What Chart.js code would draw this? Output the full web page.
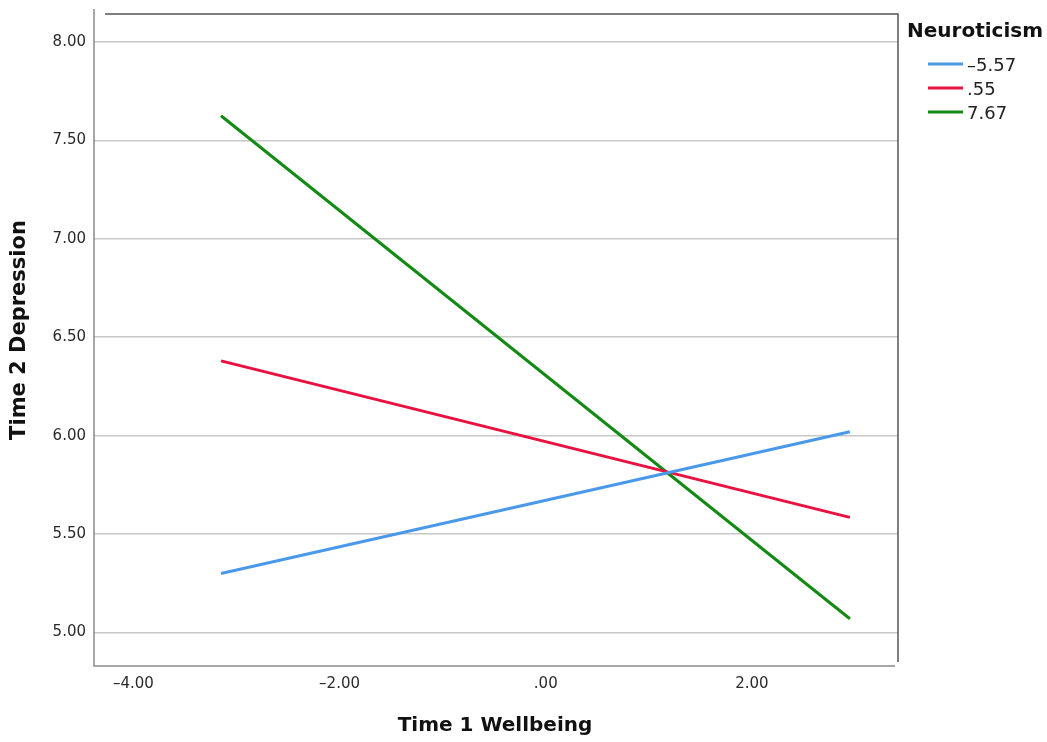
<!DOCTYPE html>
<html>
<head>
<meta charset="utf-8">
<title>Time 2 Depression by Time 1 Wellbeing</title>
<script src="https://cdn.jsdelivr.net/npm/chart.js@4.4.1/dist/chart.umd.min.js"></script>
<style>
  body { margin: 0; background: #fff; }
  #wrap { width: 1047px; height: 742px; position: relative; }
</style>
</head>
<body>
<div id="wrap"><canvas id="plot"></canvas></div>
<script>
// simple slopes: two wellbeing points per neuroticism level
const wellbeing = [-3.15, 2.95]
const neuroLevels = ['–5.57', '.55', '7.67']
const depLow = [5.30, 6.02]
const depMid = [6.38, 5.585]
const depHigh = [7.625, 5.07]
const yTicks = [5.0, 5.5, 6.0, 6.5, 7.0, 7.5, 8.0]
const xTicks = [-4, -2, 0, 2]

const colors = ['#4a99e8', '#e8113f', '#138a13']
const FONT = '"DejaVu Sans", sans-serif'

// SPSS style numbers: ".55", "–2.00"
function fmt(v) {
    let s = Math.abs(v).toFixed(2)
    if (s.startsWith('0')) s = s.slice(1)
    return (v < 0 ? '–' : '') + s
}

function pts(ys) {
    return wellbeing.map((x, i) => ({ x: x, y: ys[i] }))
}

const series = [depLow, depMid, depHigh]

const extras = {
    id: 'extras',
    afterDraw(chart) {
        const ctx = chart.ctx
        const a = chart.chartArea
        ctx.save()

        // frame
        ctx.lineWidth = 1.5
        ctx.strokeStyle = '#8a8a8a'
        ctx.beginPath()
        ctx.moveTo(a.left, a.top - 5)
        ctx.lineTo(a.left, a.bottom)
        ctx.lineTo(a.right - 3, a.bottom)
        ctx.stroke()
        ctx.strokeStyle = '#555'
        ctx.beginPath()
        ctx.moveTo(a.left + 11, a.top)
        ctx.lineTo(a.right, a.top)
        ctx.lineTo(a.right, a.bottom - 4)
        ctx.stroke()

        // axis titles
        ctx.fillStyle = '#111'
        ctx.textAlign = 'center'
        ctx.textBaseline = 'middle'
        ctx.font = 'bold 20px ' + FONT
        ctx.fillText('Time 1 Wellbeing', 495, 726)
        ctx.save()
        ctx.translate(20, 330)
        ctx.rotate(-Math.PI / 2)
        ctx.font = 'bold 21px ' + FONT
        ctx.fillText('Time 2 Depression', 0, 0)
        ctx.restore()

        // legend
        ctx.textAlign = 'left'
        ctx.font = 'bold 20px ' + FONT
        ctx.fillText('Neuroticism', 907, 32)
        ctx.font = '18px ' + FONT
        ctx.fillStyle = '#222'
        neuroLevels.forEach((lab, i) => {
            const y = 64 + i * 24
            ctx.strokeStyle = colors[i]
            ctx.lineWidth = 3
            ctx.beginPath()
            ctx.moveTo(928, y)
            ctx.lineTo(963, y)
            ctx.stroke()
            ctx.fillText(lab, 967, y + 2)
        })
        ctx.restore()
    }
}

new Chart(document.getElementById('plot'), {
    type: 'line',
    data: {
        datasets: series.map((ys, i) => ({
            label: neuroLevels[i],
            data: pts(ys),
            borderColor: colors[i],
            backgroundColor: colors[i],
            borderWidth: 3,
            pointRadius: 0,
            fill: false
        }))
    },
    options: {
        responsive: true,
        maintainAspectRatio: false,
        animation: false,
        layout: { padding: { left: 0, top: 14, right: 149, bottom: 0 } },
        plugins: {
            legend: { display: false },
            tooltip: { enabled: false }
        },
        scales: {
            x: {
                type: 'linear',
                min: -4.382,
                max: 3.417,
                afterBuildTicks: s => { s.ticks = xTicks.map(v => ({ value: v })) },
                afterFit: s => {
                    s.height = 76
                    s.paddingLeft = 0
                    s.paddingRight = 0
                },
                grid: { display: false, drawTicks: false },
                border: { display: false },
                ticks: {
                    padding: 9,
                    maxRotation: 0,
                    color: '#2a2a2a',
                    font: { family: FONT, size: 15 },
                    callback: v => fmt(v)
                }
            },
            y: {
                type: 'linear',
                min: 4.83,
                max: 8.142,
                afterBuildTicks: s => { s.ticks = yTicks.map(v => ({ value: v })) },
                afterFit: s => {
                    s.width = 94
                    s.paddingTop = 0
                    s.paddingBottom = 0
                },
                grid: { color: '#c8c8c8', lineWidth: 1.5, drawTicks: false },
                border: { display: false },
                ticks: {
                    padding: 8,
                    color: '#2a2a2a',
                    font: { family: FONT, size: 15 },
                    callback: v => fmt(v)
                }
            }
        }
    },
    plugins: [extras]
})
</script>
</body>
</html>
